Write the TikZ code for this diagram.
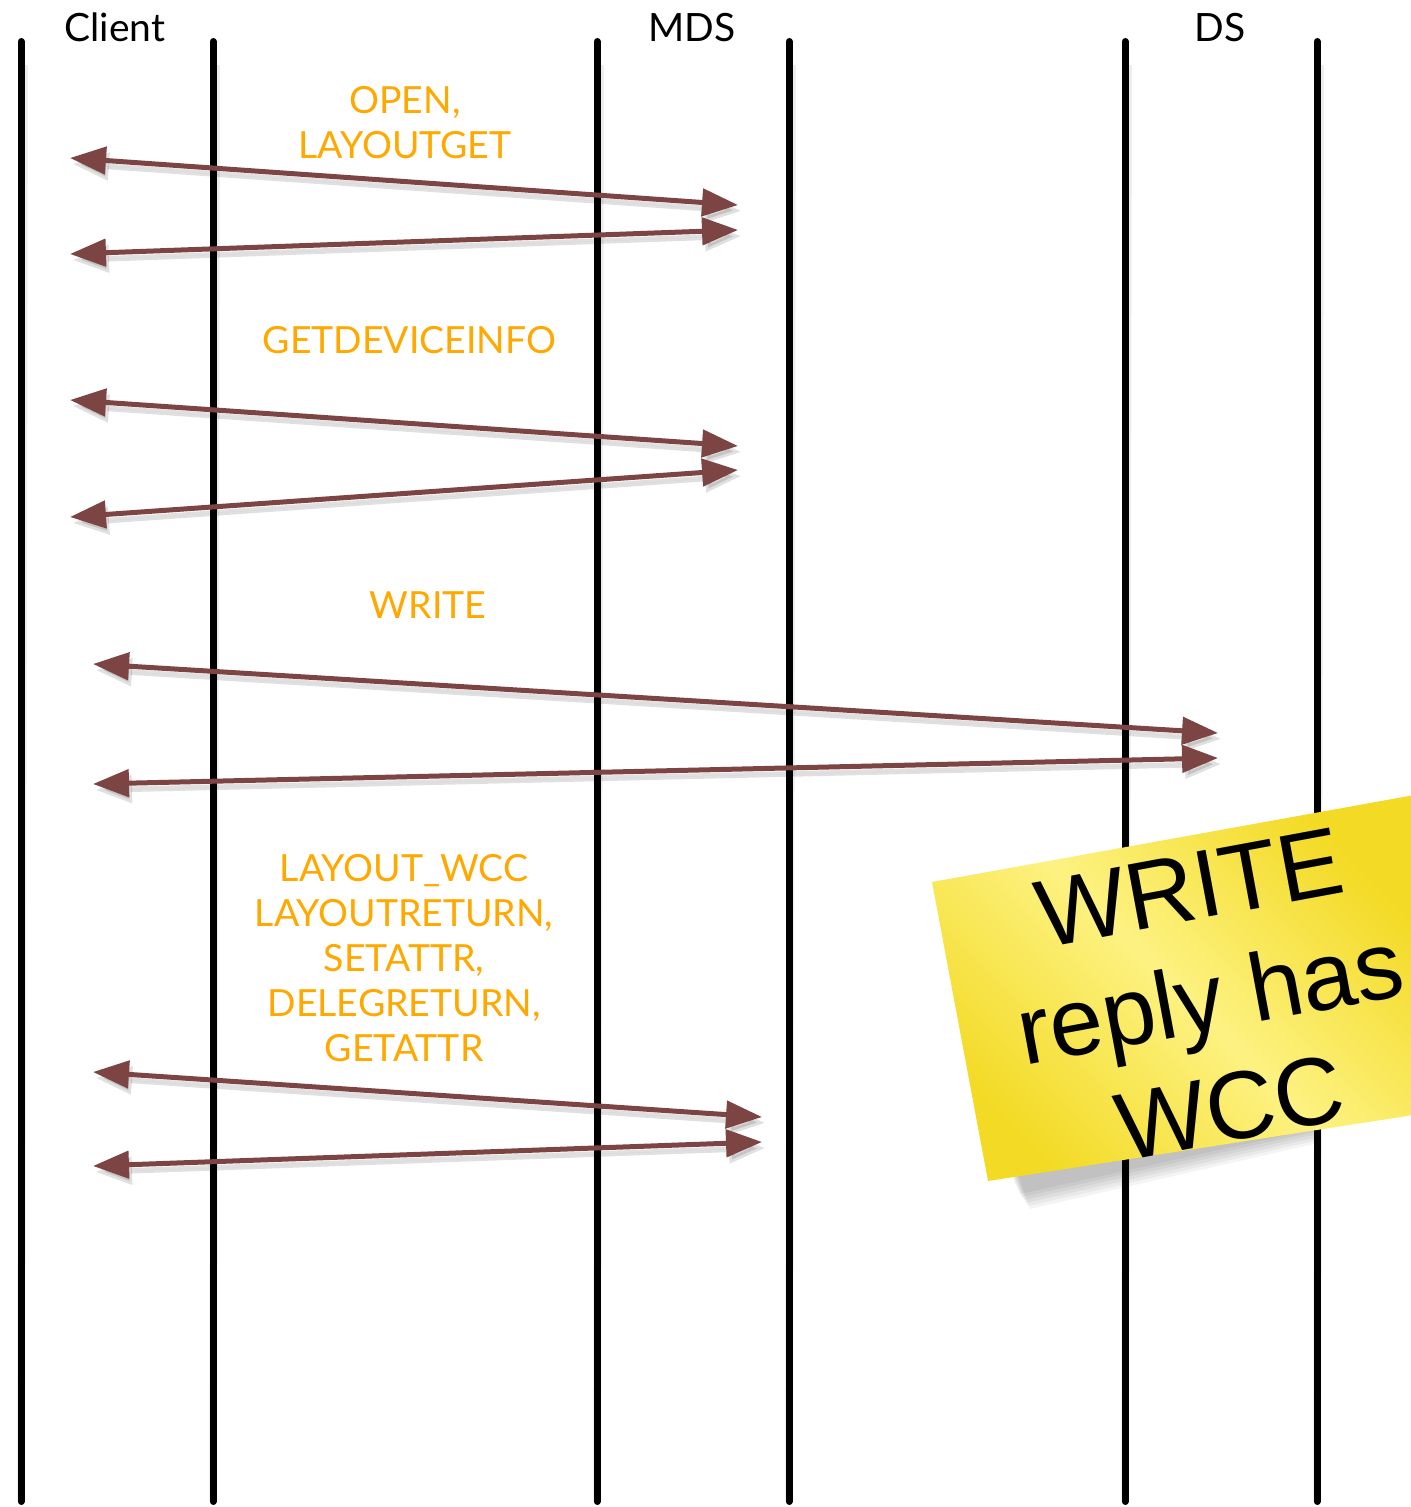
\documentclass[tikz,border=0pt]{standalone}
\usepackage{fontspec}
\setmainfont{Lato}
\newfontfamily\notefont{Liberation Sans}
\usetikzlibrary{arrows.meta}
\definecolor{msg}{RGB}{124,68,66}
\definecolor{lbl}{RGB}{255,168,0}
\definecolor{noteL}{RGB}{253,242,130}
\definecolor{noteD}{RGB}{243,218,36}
\tikzset{
  life/.style={line width=3.5pt, line cap=round, black},
  lifeshadow/.style={line width=4pt, black, opacity=0.07},
  tips/.style={{Triangle[length=18pt,width=13.5pt]}-{Triangle[length=18pt,width=13.5pt]}},
  msgarrow/.style={tips, line width=2.5pt, draw=msg, fill=msg},
  msgshadow/.style={tips, line width=2.8pt, draw=black, fill=black, opacity=0.12},
  hdr/.style={font=\fontsize{19.5}{22}\selectfont, inner sep=0pt, anchor=base},
  op/.style={text=lbl, font=\fontsize{18.7}{22.5}\selectfont, inner sep=0pt, align=center},
  notetxt/.style={font=\notefont\fontsize{48}{56}\selectfont, inner sep=0pt, align=center, rotate=10.5},
}
\begin{document}
\begin{tikzpicture}[x=0.5pt,y=-0.5pt]
\fill[white] (0,0) rectangle (1410,1507);
\useasboundingbox (0,0) rectangle (1410,1507);

% lifelines
\foreach \n/\x in {c1/21,c2/213,m1/597,m2/789,d1/1125,d2/1317}{
  \coordinate (\n t) at (\x,41.5);
  \coordinate (\n b) at (\x,1501.5);
  \coordinate (\n s) at (\x+3,65);
  \draw[lifeshadow] (\n s) -- (\n b);
  \draw[life] (\n t) -- (\n b);
}

% headers
\node[hdr] (client) at (115,42) {Client};
\node[hdr] (mds) at (692,42) {MDS};
\node[hdr] (ds) at (1220,42) {DS};

% message labels
\node[op] (lab1) at (405,122.5) {OPEN,\\LAYOUTGET};
\node[op, anchor=base] (lab2) at (409.5,354) {GETDEVICEINFO};
\node[op, anchor=base] (lab3) at (428,618) {WRITE};
\node[op] (lab4) at (404,958) {LAYOUT\_WCC\\LAYOUTRETURN,\\SETATTR,\\DELEGRETURN,\\GETATTR};

% arrow end points
\coordinate (a1l) at (70,158);   \coordinate (a1r) at (738,205);
\coordinate (a2l) at (70,254);   \coordinate (a2r) at (738,230);
\coordinate (b1l) at (70,400);   \coordinate (b1r) at (738,446);
\coordinate (b2l) at (70,517);   \coordinate (b2r) at (738,470);
\coordinate (w1l) at (93,664);   \coordinate (w1r) at (1218,733);
\coordinate (w2l) at (93,784);   \coordinate (w2r) at (1218,758);
\coordinate (l1l) at (93,1072);  \coordinate (l1r) at (762,1117);
\coordinate (l2l) at (93,1166);  \coordinate (l2r) at (762,1142);

\foreach \p in {a1,a2,b1,b2,w1,w2,l1,l2}{
  \draw[msgshadow] ([shift={(3,6)}]\p l) -- ([shift={(3,6)}]\p r);
}
\foreach \p in {a1,a2,b1,b2,w1,w2,l1,l2}{
  \draw[msgarrow] (\p l) -- (\p r);
}

% sticky note
\coordinate (ntl) at (932,882);
\coordinate (ntr) at (1420,794);
\coordinate (nbr) at (1420,1114);
\coordinate (nbl) at (988,1181);
\foreach \k in {0,...,5}{
  \fill[black, opacity=0.045] (1000+2*\k,1150) -- (1320,1100) -- (1318,1128+3*\k) -- (1020+2*\k,1194+3*\k) -- cycle;
}
\shade[top color=noteD, bottom color=noteD, middle color=noteL, shading angle=-45]
  (ntl) -- (ntr) -- (nbr) -- (nbl) -- cycle;
\node[notetxt] (note) at (1210,998) {WRITE\\reply has\\WCC};
\end{tikzpicture}
\end{document}
